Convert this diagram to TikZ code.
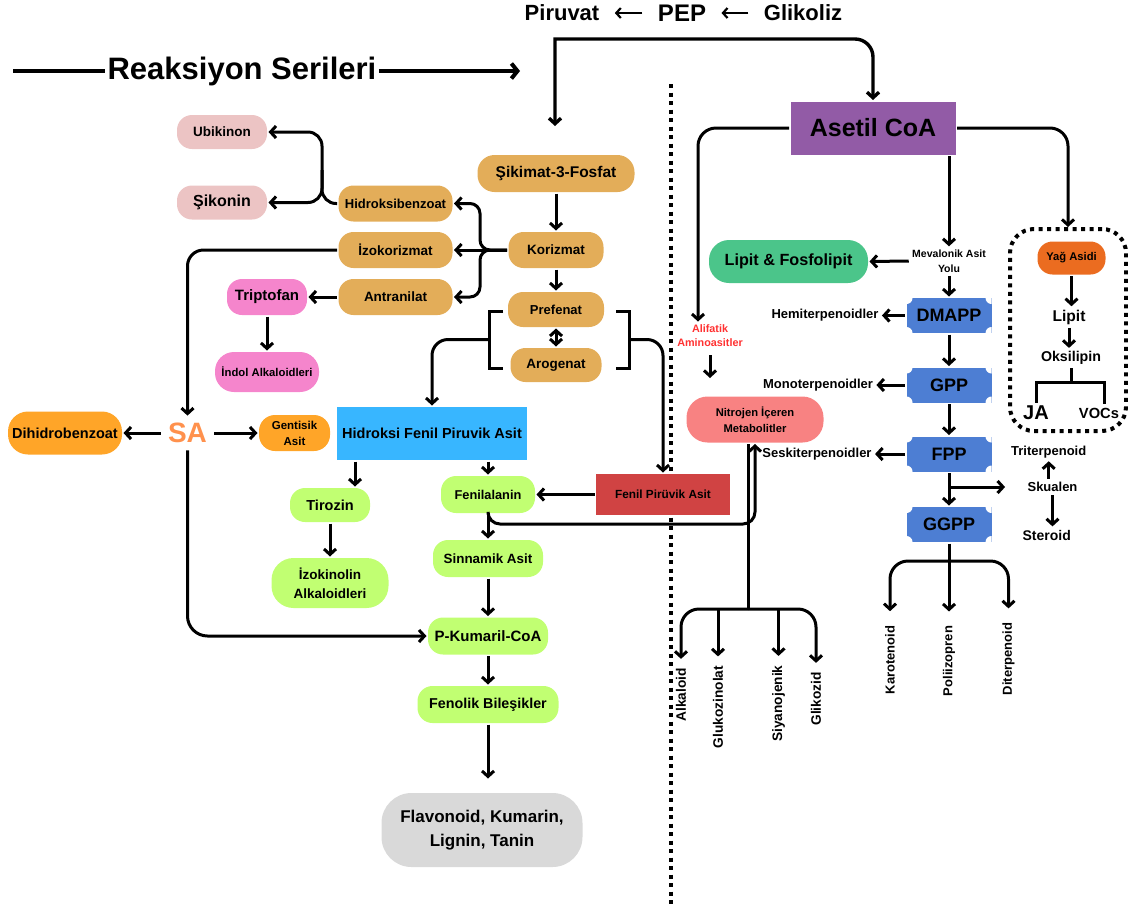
\documentclass[tikz,border=0pt]{standalone}
\usepackage{fontspec}
\setmainfont{Liberation Sans}
\usetikzlibrary{arrows.meta, positioning}

\definecolor{tanc}{HTML}{E3AD59}
\definecolor{pinklc}{HTML}{ECC4C4}
\definecolor{pinkc}{HTML}{F585CC}
\definecolor{bluec}{HTML}{38B6FF}
\definecolor{orangec}{HTML}{FFA528}
\definecolor{sac}{HTML}{FF914D}
\definecolor{greenlc}{HTML}{C1FF72}
\definecolor{redc}{HTML}{D04343}
\definecolor{grayc}{HTML}{D9D9D9}
\definecolor{purplec}{HTML}{925BA6}
\definecolor{greenc}{HTML}{4BC58A}
\definecolor{terpc}{HTML}{4D7ED3}
\definecolor{salmonc}{HTML}{F88282}
\definecolor{yagc}{HTML}{EB6C20}
\definecolor{alifc}{HTML}{FF3131}

\newcommand{\fsz}[2]{\fontsize{#1}{#2}\selectfont\bfseries}

\begin{document}
\begin{tikzpicture}[x=1pt, y=-1pt, line width=3pt,
    >={Straight Barb[length=5.5pt, width=12pt]},
    every node/.style={align=center, inner sep=2pt},
    pill/.style={rounded corners=15pt, inner sep=0pt},
    blk/.style={inner sep=0pt},
    terp/.style={fill=terpc, minimum width=85pt, minimum height=35pt, font=\fsz{18}{20},
        path picture={\foreach \crn in {north west, north east, south west, south east}
            \fill[white] (path picture bounding box.\crn) circle (6pt);}},
    vtext/.style={rotate=90, inner xsep=8pt, font=\fsz{13.7}{16}},
    toparrow/.style={->, line width=2.2pt, >={Straight Barb[length=4.5pt, width=10pt]}},
    dots/.style={line width=4pt, dash pattern=on 4pt off 4.5pt}
]
    \useasboundingbox (0,0) rectangle (1128,906);

    % Top row
    \node (piruvat) at (562,13) [inner xsep=14pt, font=\fsz{22}{24}] {Piruvat};
    \node (pep) at (682,13) [inner xsep=14pt, font=\fsz{24}{26}] {PEP};
    \node (glikoliz) at (803,13) [inner xsep=14pt, font=\fsz{22}{24}] {Glikoliz};
    \draw [toparrow] (glikoliz) -- (pep);
    \draw [toparrow] (pep) -- (piruvat);

    \node (reaksiyon) at (242,71) [inner xsep=1pt, font=\fsz{31}{34}] {Reaksiyon Serileri};
    \coordinate (rs0) at (13,71);
    \coordinate (rs1) at (520,71);
    \draw [line width=4pt] (rs0) -- (reaksiyon.west);
    \draw [line width=4pt, -{Straight Barb[length=6pt, width=15pt]}] (reaksiyon.east) -- (rs1);

    % Divider
    \coordinate (dv0) at (671,84);
    \coordinate (dv1) at (671,906);
    \draw [dots] (dv0) -- (dv1);

    % Shikimate side
    \node (sikimat) at (556,173.5) [pill, fill=tanc, minimum width=157pt, minimum height=37pt, rounded corners=17pt, font=\fsz{15.5}{18}] {Şikimat-3-Fosfat};
    \node (korizmat) at (556,250) [pill, fill=tanc, minimum width=95pt, minimum height=36pt, font=\fsz{13.5}{16}] {Korizmat};
    \node (prefenat) at (556,309.5) [pill, fill=tanc, minimum width=96pt, minimum height=35pt, font=\fsz{13}{16}] {Prefenat};
    \node (arogenat) at (556,365) [pill, fill=tanc, minimum width=91pt, minimum height=34pt, font=\fsz{13.5}{16}] {Arogenat};
    \node (hidroksibenzoat) at (395.5,203.5) [pill, fill=tanc, minimum width=114pt, minimum height=36pt, font=\fsz{13}{16}] {Hidroksibenzoat};
    \node (izokorizmat) at (395.5,250) [pill, fill=tanc, minimum width=114pt, minimum height=36pt, font=\fsz{13.5}{16}] {İzokorizmat};
    \node (antranilat) at (395.5,297) [pill, fill=tanc, minimum width=114pt, minimum height=36pt, font=\fsz{13.5}{16}] {Antranilat};
    \node (ubikinon) at (222,132) [pill, fill=pinklc, minimum width=90pt, minimum height=34pt, font=\fsz{13.5}{16}] {Ubikinon};
    \node (sikonin) at (222,202.5) [pill, fill=pinklc, minimum width=90pt, minimum height=34pt, font=\fsz{16}{18}] {Şikonin};
    \node (triptofan) at (267,297) [pill, fill=pinkc, minimum width=80pt, minimum height=36pt, font=\fsz{15}{18}] {Triptofan};
    \node (indol) at (267,372) [pill, fill=pinkc, minimum width=104pt, minimum height=40pt, rounded corners=19pt, font=\fsz{11.3}{14}] {İndol Alkaloidleri};
    \node (hfpa) at (432,433.5) [blk, fill=bluec, minimum width=190pt, minimum height=53pt, font=\fsz{14.5}{17}] {Hidroksi Fenil Piruvik Asit};
    \node (dihidro) at (65,433) [pill, fill=orangec, minimum width=114pt, minimum height=43pt, rounded corners=20pt, font=\fsz{14.5}{17}] {Dihidrobenzoat};
    \node (sa) at (187.5,433) [inner sep=6pt, text=sac, font=\fsz{28}{30}] {SA};
    \node (gentisik) at (294.5,433) [pill, fill=orangec, minimum width=71pt, minimum height=36pt, rounded corners=16pt, font=\fsz{11.5}{16}] {Gentisik\\Asit};
    \node (tirozin) at (330,505) [pill, fill=greenlc, minimum width=80pt, minimum height=34pt, font=\fsz{14.5}{17}] {Tirozin};
    \node (izokinolin) at (330,583) [pill, fill=greenlc, minimum width=117pt, minimum height=50pt, rounded corners=22pt, font=\fsz{13.5}{19}] {İzokinolin\\Alkaloidleri};
    \node (fenilalanin) at (488,494.5) [pill, fill=greenlc, minimum width=94pt, minimum height=37pt, font=\fsz{12.8}{16}] {Fenilalanin};
    \node (fpa) at (663,494.5) [blk, fill=redc, minimum width=134pt, minimum height=41pt, font=\fsz{11.8}{14}] {Fenil Pirüvik Asit};
    \node (sinnamik) at (488,558.5) [pill, fill=greenlc, minimum width=110pt, minimum height=37pt, font=\fsz{13.4}{16}] {Sinnamik Asit};
    \node (pkumaril) at (488,636) [pill, fill=greenlc, minimum width=120pt, minimum height=37pt, font=\fsz{15}{18}] {P-Kumaril-CoA};
    \node (fenolik) at (488,704.5) [pill, fill=greenlc, minimum width=141pt, minimum height=37pt, font=\fsz{14.3}{17}] {Fenolik Bileşikler};
    \node (flavonoid) at (482,830) [pill, fill=grayc, minimum width=201pt, minimum height=74pt, rounded corners=30pt, font=\fsz{17}{24}] {Flavonoid, Kumarin,\\Lignin, Tanin};

    % Acetyl CoA side
    \node (asetil) at (873,128) [blk, fill=purplec, minimum width=165pt, minimum height=53pt, font=\fsz{25}{28}] {Asetil CoA};
    \node (lipitfos) at (788.5,261.5) [pill, fill=greenc, minimum width=159pt, minimum height=43pt, rounded corners=20pt, font=\fsz{16.2}{19}] {Lipit \& Fosfolipit};
    \node (mevalonik) at (949,261) [font=\fsz{10.5}{14.7}] {Mevalonik Asit\\Yolu};
    \node (dmapp) at (949,315.5) [terp] {DMAPP};
    \node (gpp) at (949,385) [terp] {GPP};
    \node (fpp) at (949,454) [terp] {FPP};
    \node (ggpp) at (949,524.5) [terp] {GGPP};
    \node (hemi) at (825,315.5) [font=\fsz{13}{16}] {Hemiterpenoidler};
    \node (mono) at (818,385) [font=\fsz{13}{16}] {Monoterpenoidler};
    \node (seski) at (817,454) [font=\fsz{13}{16}] {Seskiterpenoidler};
    \node (alifatik) at (710,336) [text=alifc, font=\fsz{10.8}{14}] {Alifatik\\Aminoasitler};
    \node (nitrojen) at (755,419.5) [pill, fill=salmonc, minimum width=137pt, minimum height=46pt, rounded corners=21pt, font=\fsz{11.2}{15.5}] {Nitrojen İçeren\\Metabolitler};
    \node (triterpenoid) at (1048.7,451.7) [font=\fsz{13}{16}] {Triterpenoid};
    \node (skualen) at (1052.5,487) [font=\fsz{13}{16}] {Skualen};
    \node (steroid) at (1046.7,535) [font=\fsz{14}{16}] {Steroid};

    % Fatty acid box
    \node (yagbox) at (1068,330) [draw, dots, rounded corners=24pt, minimum width=116pt, minimum height=202pt] {};
    \node (yag) at (1071.5,258) [pill, fill=yagc, minimum width=68pt, minimum height=33pt, font=\fsz{11.2}{14}] {Yağ Asidi};
    \node (lipitk) at (1069,317) [font=\fsz{15.6}{18}] {Lipit};
    \node (oksilipin) at (1071,358) [font=\fsz{14.2}{17}] {Oksilipin};
    \node (ja) at (1036,413) [font=\fsz{20}{22}] {JA};
    \node (vocs) at (1099,413) [font=\fsz{14.7}{17}] {VOCs};

    % Rotated end products
    \node (alkaloid) at (681,695) [vtext] {Alkaloid};
    \node (glukozinolat) at (718,707) [vtext] {Glukozinolat};
    \node (siyanojenik) at (778.5,703.5) [vtext] {Siyanojenik};
    \node (glikozid) at (816,699) [vtext] {Glikozid};
    \node (karotenoid) at (890,660) [vtext, font=\fsz{13}{16}] {Karotenoid};
    \node (poliizopren) at (949,661) [vtext, font=\fsz{13}{16}] {Poliizopren};
    \node (diterpenoid) at (1008.5,659) [vtext, font=\fsz{13}{16}] {Diterpenoid};

    % Branch points
    \coordinate (sk) at (555,126);
    \coordinate (top) at (555,39);
    \coordinate (kz) at (480,250);
    \coordinate (hb) at (322,170);
    \coordinate (lb) at (489,339.5);
    \coordinate (rb) at (629,339.5);
    \coordinate (fn) at (755,524);
    \coordinate (nb) at (748,609);
    \coordinate (fb) at (949,487);
    \coordinate (gb) at (949,561);
    \coordinate (ob) at (1071,382);

    % Glycolysis feed
    \draw [<->, line width=3.4pt] (sk) -- (top) -- (855,39) arc [start angle=90, end angle=0, radius=18pt] -- (asetil.north);

    % Shikimate arrows
    \draw [->] (sikimat) -- (korizmat);
    \draw [->] (korizmat) -- (prefenat);
    \draw [<->] (prefenat) -- (arogenat);
    \draw [->] (korizmat.west) -- (izokorizmat.east);
    \draw [->, rounded corners=10pt] (korizmat.west) -- (kz) |- (hidroksibenzoat.east);
    \draw [->, rounded corners=10pt] (korizmat.west) -- (kz) |- (antranilat.east);
    \draw [->, rounded corners=14pt] (hidroksibenzoat.west) -| (hb) |- (ubikinon.east);
    \draw [->, rounded corners=14pt] (hb) |- (sikonin.east);
    \draw [->, rounded corners=16pt] (izokorizmat.west) -| (sa.north);
    \draw [->] (antranilat.west) -- (triptofan.east);
    \draw [->] (triptofan) -- (indol);
    \draw [->] (sa.west) -- (dihidro.east);
    \draw [->] (sa.east) -- (gentisik.west);
    \draw [->, rounded corners=20pt] (sa.south) |- (pkumaril.west);

    % Prefenat / Arogenat brackets
    \draw (503,311) -| (489,368) -- (503,368);
    \draw (616,311) -| (629,368) -- (616,368);
    \draw [->, rounded corners=16pt] (lb) -| (hfpa.north);
    \draw [->, rounded corners=16pt] (rb) -| (fpa.north);

    % Phenylpropanoid arrows
    \draw [->] ([xshift=-77pt]hfpa.south) -- ([xshift=25pt]tirozin.north);
    \draw [->] (hfpa.south -| fenilalanin.north) -- (fenilalanin.north);
    \draw [->] (tirozin) -- (izokinolin);
    \draw [->] (fpa.west) -- (fenilalanin.east);
    \draw [->] (fenilalanin) -- (sinnamik);
    \draw [->, rounded corners=12pt] (fenilalanin.south) |- (fn) -- (nitrojen.south);
    \draw [->] (sinnamik) -- (pkumaril);
    \draw [->] (pkumaril) -- (fenolik);
    \draw [->, shorten >=13pt] (fenolik.south) -- (fenolik.south |- flavonoid.north);

    % Acetyl CoA arrows
    \draw [->, rounded corners=18pt] (asetil.west) -| ([xshift=-12pt]alifatik.north);
    \draw [->, rounded corners=18pt] (asetil.east) -| (yagbox.north);
    \draw [->] (asetil.south -| mevalonik.north) -- (mevalonik.north);
    \draw [->] (mevalonik.west) -- (lipitfos.east);
    \draw [->] (mevalonik) -- (dmapp);
    \draw [->] (dmapp) -- (gpp);
    \draw [->] (gpp) -- (fpp);
    \draw [->] (fpp) -- (ggpp);
    \draw [->] (dmapp.west) -- (hemi.east);
    \draw [->] (gpp.west) -- (mono.east);
    \draw [->] (fpp.west) -- (seski.east);
    \draw [->, shorten >=19pt] (fb) -- (skualen.west);
    \draw [->] (triterpenoid.south |- skualen.north) -- (triterpenoid.south);
    \draw [->] (skualen.south) -- (skualen.south |- steroid.north);
    \draw [->, shorten <=5pt, shorten >=17pt] (alifatik.south) -- (alifatik.south |- nitrojen.north);

    % Nitrogen branch
    \draw (nitrojen.south -| nb) -- (nb);
    \draw [->, rounded corners=18pt] (nb) -| (alkaloid.east);
    \draw [->, rounded corners=18pt] (nb) -| (glikozid.east);
    \draw [->] (glukozinolat.east |- nb) -- (glukozinolat.east);
    \draw [->] (siyanojenik.east |- nb) -- (siyanojenik.east);

    % GGPP branch
    \draw (ggpp.south) -- (gb);
    \draw [->, rounded corners=18pt, shorten >=5pt] (gb) -| (karotenoid.east);
    \draw [->, shorten >=5pt] (gb) -- (poliizopren.east);
    \draw [->, rounded corners=18pt, shorten >=5pt] (gb) -| (diterpenoid.east);

    % Fatty acid arrows
    \draw [->] (yag.south) -- (yag.south |- lipitk.north);
    \draw [->] (lipitk.south) -- (lipitk.south |- oksilipin.north);
    \draw (oksilipin.south) -- (ob);
    \draw (ja.north) |- (ob) -| ([xshift=5pt]vocs.north);
\end{tikzpicture}
\end{document}
